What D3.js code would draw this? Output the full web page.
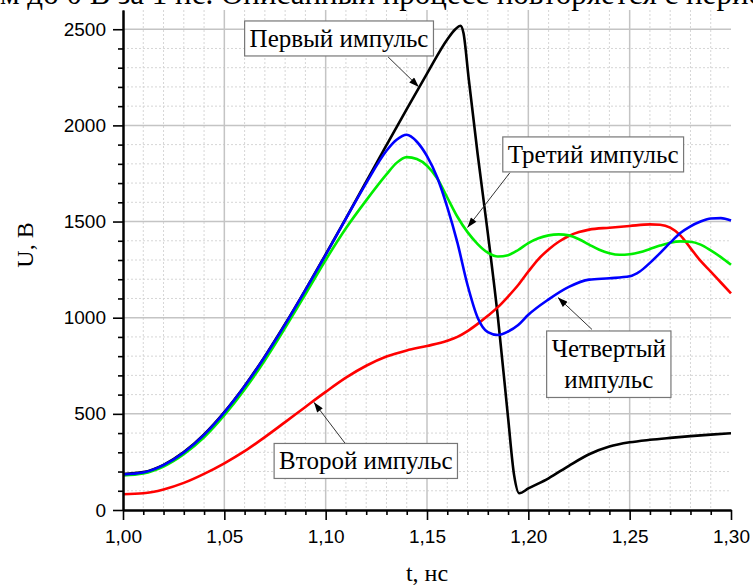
<!DOCTYPE html>
<html>
<head>
<meta charset="utf-8">
<script src="https://cdn.jsdelivr.net/npm/d3@7"></script>
<style>
	body { margin: 0; background: #fff; }
</style>
</head>
<body>
<div id="chart"></div>
<script>
// values: t in ns, U in V
const tFirst = [1.00, 1.01, 1.02, 1.03, 1.04, 1.05, 1.06, 1.07, 1.08, 1.09, 1.10, 1.11, 1.12, 1.13, 1.14, 1.15, 1.16, 1.164, 1.1665, 1.168, 1.1705, 1.175, 1.18, 1.185, 1.19, 1.193, 1.1955, 1.20, 1.21, 1.22, 1.23, 1.24, 1.25, 1.26, 1.27, 1.28, 1.29, 1.30];
const uFirst = [187, 197, 235, 301, 393, 509, 645, 799, 967, 1145, 1329, 1517, 1707, 1897, 2085, 2269, 2447, 2500, 2518, 2480, 2250, 1850, 1440, 1000, 480, 180, 87, 112, 165, 230, 290, 330, 352, 365, 375, 384, 392, 399];

const tSecond = [1.00, 1.01, 1.02, 1.03, 1.04, 1.05, 1.06, 1.07, 1.08, 1.09, 1.10, 1.11, 1.12, 1.13, 1.14, 1.15, 1.16, 1.165, 1.17, 1.175, 1.18, 1.185, 1.19, 1.195, 1.20, 1.205, 1.21, 1.215, 1.22, 1.225, 1.23, 1.24, 1.25, 1.26, 1.265, 1.27, 1.275, 1.28, 1.285, 1.29, 1.295, 1.30];
const uSecond = [82, 87, 107, 141, 188, 243, 306, 379, 457, 536, 614, 688, 750, 798, 830, 853, 880, 900, 930, 968, 1010, 1055, 1110, 1170, 1240, 1305, 1355, 1395, 1425, 1445, 1458, 1468, 1477, 1485, 1483, 1468, 1428, 1362, 1295, 1240, 1183, 1127];

const tThird = [1.00, 1.01, 1.02, 1.03, 1.04, 1.05, 1.06, 1.07, 1.08, 1.09, 1.10, 1.11, 1.12, 1.13, 1.135, 1.14, 1.145, 1.15, 1.155, 1.16, 1.165, 1.17, 1.175, 1.18, 1.185, 1.19, 1.195, 1.20, 1.205, 1.21, 1.215, 1.22, 1.225, 1.23, 1.235, 1.24, 1.245, 1.25, 1.255, 1.26, 1.265, 1.27, 1.275, 1.28, 1.285, 1.29, 1.295, 1.30];
const uThird = [180, 190, 226, 290, 378, 493, 627, 779, 947, 1122, 1300, 1465, 1610, 1745, 1805, 1835, 1825, 1790, 1725, 1625, 1525, 1445, 1383, 1338, 1318, 1325, 1352, 1388, 1413, 1428, 1433, 1428, 1408, 1380, 1353, 1335, 1327, 1330, 1340, 1357, 1375, 1390, 1397, 1395, 1380, 1350, 1315, 1275];

const tFourth = [1.00, 1.01, 1.02, 1.03, 1.04, 1.05, 1.06, 1.07, 1.08, 1.09, 1.10, 1.11, 1.12, 1.13, 1.135, 1.14, 1.145, 1.15, 1.155, 1.16, 1.165, 1.17, 1.175, 1.18, 1.185, 1.19, 1.195, 1.20, 1.21, 1.22, 1.23, 1.24, 1.25, 1.255, 1.26, 1.265, 1.27, 1.275, 1.28, 1.285, 1.29, 1.295, 1.30];
const uFourth = [185, 195, 233, 299, 391, 507, 643, 797, 965, 1143, 1327, 1515, 1700, 1868, 1925, 1951, 1915, 1840, 1730, 1575, 1390, 1170, 1000, 925, 910, 928, 962, 1015, 1095, 1160, 1198, 1205, 1215, 1240, 1285, 1336, 1390, 1440, 1475, 1500, 1516, 1518, 1505];

const xTicks = [1.00, 1.05, 1.10, 1.15, 1.20, 1.25, 1.30];
const yTicks = [0, 500, 1000, 1500, 2000, 2500];

// callouts: box centre, arrow start and arrow tip, all in data units
const callouts = [
	{ lines: ['Первый импульс'], t: 1.1066, u: 2452, fromT: 1.1308, fromU: 2356, toT: 1.146, toU: 2200 },
	{ lines: ['Третий импульс'], t: 1.232, u: 1849, fromT: 1.1909, fromU: 1754, toT: 1.17, toU: 1469 },
	{ lines: ['Второй импульс'], t: 1.1198, u: 255, fromT: 1.1095, fromU: 348, toT: 1.0942, toU: 560 },
	{ lines: ['Четвертый', 'импульс'], t: 1.2397, u: 758, fromT: 1.2314, fromU: 939, toT: 1.2146, toU: 1105 }
];

let margin = { top: 10, right: 22, bottom: 75, left: 123 },
	width = 753 - margin.left - margin.right,
	height = 585 - margin.top - margin.bottom;

const root = d3
	.select('#chart')
	.append('svg')
	.attr('width', 753)
	.attr('height', 585);

// cut-off line of the surrounding document text
root
	.append('text')
	.attr('x', 0)
	.attr('y', 4)
	.style('font-family', '"Liberation Serif", "Times New Roman", serif')
	.style('font-size', '31px')
	.text('м до 0 В за 1 нс. Описанный процесс повторяется с периодом');

const svg = root.append('g').attr('transform', 'translate(' + margin.left + ',' + margin.top + ')');

const x = d3.scaleLinear().domain([1.0, 1.3]).range([0, width]);
const y = d3.scaleLinear().domain([0, 2600]).range([height, 0]);

const minorX = d3.range(1, 30).map((i) => 1 + i / 100).filter((v) => Math.round(v * 100) % 5 !== 0);
const minorY = d3.range(1, 26).map((i) => i * 100).filter((v) => v % 500 !== 0);

// grid
svg.append('g')
	.selectAll('line')
	.data(minorX)
	.enter()
	.append('line')
	.attr('x1', (d) => x(d))
	.attr('x2', (d) => x(d))
	.attr('y1', 0)
	.attr('y2', height)
	.attr('stroke', '#d6d6d6')
	.attr('stroke-dasharray', '2,2');

svg.append('g')
	.selectAll('line')
	.data(minorY)
	.enter()
	.append('line')
	.attr('x1', 0)
	.attr('x2', width)
	.attr('y1', (d) => y(d))
	.attr('y2', (d) => y(d))
	.attr('stroke', '#d6d6d6')
	.attr('stroke-dasharray', '2,2');

svg.append('g')
	.selectAll('line')
	.data(xTicks.slice(1, -1))
	.enter()
	.append('line')
	.attr('x1', (d) => x(d))
	.attr('x2', (d) => x(d))
	.attr('y1', 0)
	.attr('y2', height)
	.attr('stroke', '#c4c4c4')
	.attr('stroke-width', 1.5);

svg.append('g')
	.selectAll('line')
	.data(yTicks.slice(1))
	.enter()
	.append('line')
	.attr('x1', 0)
	.attr('x2', width)
	.attr('y1', (d) => y(d))
	.attr('y2', (d) => y(d))
	.attr('stroke', '#c4c4c4')
	.attr('stroke-width', 1.5);

// curves
const line = d3
	.line()
	.x((d) => x(d[0]))
	.y((d) => y(d[1]))
	.curve(d3.curveMonotoneX);

const series = [
	{ t: tFirst, u: uFirst, color: '#000000' },
	{ t: tSecond, u: uSecond, color: '#ff0000' },
	{ t: tThird, u: uThird, color: '#00ee00' },
	{ t: tFourth, u: uFourth, color: '#0000ff' }
];

series.forEach((s) => {
	svg.append('path')
		.datum(s.t.map((t, i) => [t, s.u[i]]))
		.attr('fill', 'none')
		.attr('stroke', s.color)
		.attr('stroke-width', 2.6)
		.attr('stroke-linejoin', 'round')
		.attr('d', line);
});

// axes
const fmt = (d) => d.toFixed(2).replace('.', ',');

svg.append('g')
	.attr('class', 'axis')
	.attr('transform', 'translate(0,' + height + ')')
	.call(d3.axisBottom(x).tickValues(minorX).tickSize(5).tickSizeOuter(0).tickFormat(''));

svg.append('g')
	.attr('class', 'axis')
	.attr('transform', 'translate(0,' + height + ')')
	.call(d3.axisBottom(x).tickValues(xTicks).tickSize(10).tickSizeOuter(0).tickPadding(10).tickFormat(fmt));

svg.append('g')
	.attr('class', 'axis')
	.call(d3.axisLeft(y).tickValues(minorY).tickSize(5).tickSizeOuter(0).tickFormat(''));

svg.append('g')
	.attr('class', 'axis')
	.call(d3.axisLeft(y).tickValues(yTicks).tickSize(10).tickSizeOuter(0).tickPadding(7).tickFormat(d3.format('d')));

svg.selectAll('.axis path').attr('stroke', '#000').attr('stroke-width', 2);
svg.selectAll('.axis line').attr('stroke', '#000').attr('stroke-width', 1.6);
svg.selectAll('.axis text')
	.style('font-family', '"Liberation Sans", Arial, sans-serif')
	.style('font-size', '19px')
	.attr('fill', '#000');

// axis titles
svg.append('text')
	.attr('transform', 'translate(' + (33 - margin.left) + ',' + (245 - margin.top) + ') rotate(-90)')
	.attr('text-anchor', 'middle')
	.style('font-family', '"Liberation Serif", "Times New Roman", serif')
	.style('font-size', '24px')
	.text('U, В');

svg.append('text')
	.attr('x', width / 2)
	.attr('y', 581 - margin.top)
	.attr('text-anchor', 'middle')
	.style('font-family', '"Liberation Serif", "Times New Roman", serif')
	.style('font-size', '24px')
	.text('t, нс');

// callouts
root.append('defs')
	.append('marker')
	.attr('id', 'head')
	.attr('viewBox', '0 0 10 7')
	.attr('refX', 10)
	.attr('refY', 3.5)
	.attr('markerUnits', 'userSpaceOnUse')
	.attr('markerWidth', 11)
	.attr('markerHeight', 7)
	.attr('orient', 'auto')
	.append('path')
	.attr('d', 'M0,0L10,3.5L0,7Z')
	.attr('fill', '#000');

callouts.forEach((c) => {
	svg.append('line')
		.attr('x1', x(c.fromT))
		.attr('y1', y(c.fromU))
		.attr('x2', x(c.toT))
		.attr('y2', y(c.toU))
		.attr('stroke', '#333')
		.attr('stroke-width', 1)
		.attr('marker-end', 'url(#head)');

	const g = svg.append('g');
	const box = g.append('rect');
	const txt = g.append('text')
		.attr('text-anchor', 'middle')
		.style('font-family', '"Liberation Serif", "Times New Roman", serif')
		.style('font-size', '25px');
	c.lines.forEach((l, i) => {
		txt.append('tspan').attr('x', 0).attr('dy', i === 0 ? 0 : 31.5).text(l);
	});
	const bb = txt.node().getBBox();
	box.attr('x', bb.x - 5)
		.attr('y', bb.y - 4)
		.attr('width', bb.width + 10)
		.attr('height', bb.height + 8)
		.attr('fill', '#fff')
		.attr('stroke', '#777')
		.attr('stroke-width', 1.2);
	g.attr('transform', 'translate(' + x(c.t) + ',' + (y(c.u) - (bb.y + bb.height / 2)) + ')');
});
</script>
</body>
</html>
